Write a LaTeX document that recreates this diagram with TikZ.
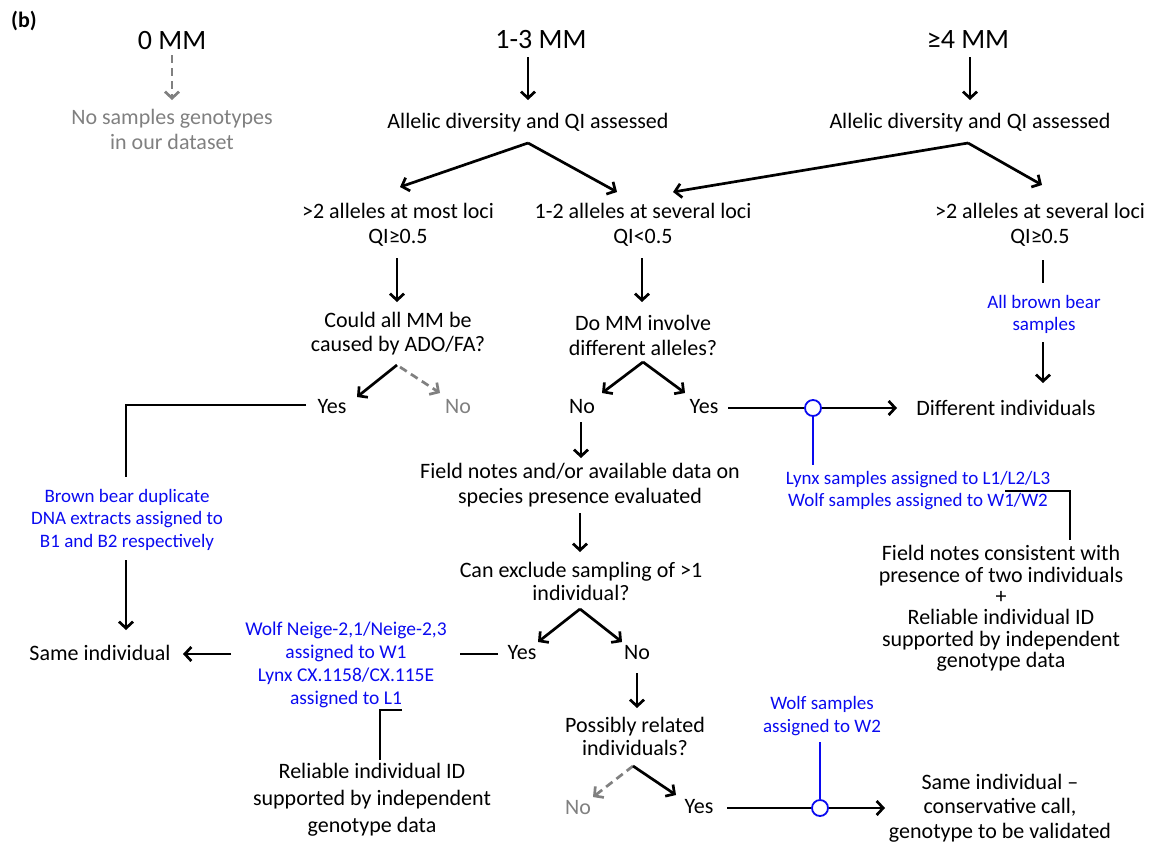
\documentclass[tikz,border=0pt]{standalone}
\usepackage{fontspec}
\setmainfont{Carlito}
\usetikzlibrary{arrows.meta,calc}
\definecolor{bblue}{RGB}{10,10,240}
\definecolor{ggray}{RGB}{128,128,128}
\tikzset{
 txt/.style={font=\fontsize{22}{24}\selectfont, align=center, inner sep=1pt},
 big/.style={font=\fontsize{28}{30}\selectfont, inner sep=1pt},
 btxt/.style={font=\fontsize{19}{22}\selectfont, align=center, text=bblue, inner sep=1pt},
 gtxt/.style={txt, text=ggray},
 arr/.style={line width=2.7pt, -{Straight Barb[length=6.5pt,width=14pt]}},
 garr/.style={arr, draw=ggray, dash pattern=on 8pt off 5pt},
 ln/.style={line width=2.7pt},
 bln/.style={line width=2.7pt, draw=bblue},
 circ/.style={circle, draw=bblue, fill=white, line width=1.8pt, minimum size=16pt, inner sep=0pt}
}
\begin{document}
\begin{tikzpicture}[x=1pt,y=-1pt]
\useasboundingbox (0,0) rectangle (1150,847);
\node[font=\fontsize{22}{24}\selectfont\bfseries, inner sep=0pt] (lab) at (24,21) {(b)};
% nodes
\node[big] (mm0) at (172,41) {0 MM};
\node[big] (mm13) at (541,40) {1-3 MM};
\node[big] (mm4) at (968,40) {≥4 MM};
\node[gtxt, font=\fontsize{22}{25}\selectfont] (nos) at (172,129) {No samples genotypes\\in our dataset};
\node[txt] (al1) at (528,123) {Allelic diversity and QI assessed};
\node[txt] (al2) at (970,123) {Allelic diversity and QI assessed};
\node[txt, font=\fontsize{22}{25}\selectfont] (ma) at (398,224.5) {>2 alleles at most loci\\QI≥0.5};
\node[txt, font=\fontsize{22}{25}\selectfont] (fw) at (643,224.5) {1-2 alleles at several loci\\QI<0.5};
\node[txt, font=\fontsize{22}{25}\selectfont] (sl) at (1040,224.5) {>2 alleles at several loci\\QI≥0.5};
\node[txt, font=\fontsize{22}{24}\selectfont] (ado) at (398,333.5) {Could all MM be\\caused by ADO/FA?};
\node[txt, font=\fontsize{22}{25}\selectfont] (inv) at (643,335.5) {Do MM involve\\different alleles?};
\node[btxt] (bb) at (1044,314) {All brown bear\\samples};
\node[txt] (yes1) at (332,407) {Yes};
\node[gtxt] (no1) at (458,407) {No};
\node[txt] (no2) at (582,407) {No};
\node[txt] (yes2) at (704,407) {Yes};
\node[txt] (diff) at (1006,408) {Different individuals};
\node[btxt] (lynx) at (918,491) {Lynx samples assigned to L1/L2/L3\\Wolf samples assigned to W1/W2};
\node[txt, font=\fontsize{22}{21.4}\selectfont] (fn2) at (1001,608.5) {Field notes consistent with\\presence of two individuals\\+\\Reliable individual ID\\supported by independent\\genotype data};
\node[btxt, font=\fontsize{19}{22.5}\selectfont] (brown) at (127,519.5) {Brown bear duplicate\\DNA extracts assigned to\\B1 and B2 respectively};
\node[txt] (same) at (100,653) {Same individual};
\node[txt, font=\fontsize{22}{25}\selectfont] (fne) at (580,485.5) {Field notes and/or available data on\\species presence evaluated};
\node[txt, font=\fontsize{22}{23}\selectfont] (ce) at (581,581.5) {Can exclude sampling of >1\\individual?};
\node[txt] (yes3) at (522,653) {Yes};
\node[txt] (no3) at (637,653) {No};
\node[btxt, font=\fontsize{19.5}{23}\selectfont] (wn) at (346,664.5) {Wolf Neige-2,1/Neige-2,3\\assigned to W1\\Lynx CX.1158/CX.115E\\assigned to L1};
\node[txt, font=\fontsize{22}{27}\selectfont] (rel) at (372,800) {Reliable individual ID\\supported by independent\\genotype data};
\node[txt, font=\fontsize{22}{23}\selectfont] (pr) at (635,736.5) {Possibly related\\individuals?};
\node[gtxt] (no4) at (578,808) {No};
\node[txt] (yes4) at (699,807) {Yes};
\node[btxt, font=\fontsize{19}{23}\selectfont] (w2) at (822,716.5) {Wolf samples\\assigned to W2};
\node[txt, font=\fontsize{22}{24.5}\selectfont] (sic) at (1000,808) {Same individual --\\conservative call,\\genotype to be validated};
% connectors
\draw[garr] ($(mm0)+(0,14)$) -- ($(nos)+(0,-29)$);
\draw[arr] ($(mm13)+(-13,17)$) -- ($(al1)+(0,-23)$);
\draw[arr] ($(mm4)+(2,17)$) -- ($(al2)+(0,-23)$);
\draw[arr] ($(al1)+(0,20)$) -- ($(ma)+(2,-37.5)$);
\draw[arr] ($(al1)+(0,20)$) -- ($(fw)+(-26,-32.5)$);
\draw[arr] ($(al2)+(-2,20)$) -- ($(fw)+(30,-32.5)$);
\draw[arr] ($(al2)+(-2,20)$) -- ($(sl)+(2,-39.5)$);
\draw[arr] ($(ma)+(-1,33.5)$) -- ($(ado)+(-1,-31.5)$);
\draw[arr] ($(fw)+(-1,33.5)$) -- ($(inv)+(-1,-33.5)$);
\draw[ln] ($(sl)+(3,35.5)$) -- ($(bb)+(-1,-31)$);
\draw[arr] ($(bb)+(-1,28)$) -- ($(diff)+(37,-25)$);
\draw[arr] ($(ado)+(-1,31.5)$) -- ($(yes1)+(25,-10)$);
\draw[garr] ($(ado)+(2,33.5)$) -- ($(no1)+(-18,-14)$);
\draw[arr] ($(inv)+(0,26.5)$) -- ($(no2)+(20,-14)$);
\draw[arr] ($(inv)+(0,26.5)$) -- ($(yes2)+(-19,-14)$);
\draw[arr] ($(yes2)+(24,1)$) -- ($(diff)+(-109,0)$);
\node[circ] (c1) at (813,408) {};
\draw[bln] (c1.south) -- ($(lynx)+(-105,-26)$);
\draw[ln] ($(lynx)+(87,0)$) -| ($(fn2)+(69,-68.5)$);
\draw[ln] ($(yes1)+(-26,-2)$) -| ($(brown)+(-1,-42.5)$);
\draw[arr] ($(brown)+(-1,40.5)$) -- ($(same)+(26,-23)$);
\draw[arr] ($(no2)+(-1,15)$) -- ($(fne)+(1,-27.5)$);
\draw[arr] ($(fne)+(0,27.5)$) -- ($(ce)+(-1,-29.5)$);
\draw[arr] ($(ce)+(-1,27.5)$) -- ($(yes3)+(16,-11)$);
\draw[arr] ($(ce)+(-1,27.5)$) -- ($(no3)+(-15,-11)$);
\draw[ln] ($(yes3)+(-24,1)$) -- ($(wn)+(114,-10.5)$);
\draw[arr] ($(wn)+(-115,-10.5)$) -- ($(same)+(83,1)$);
\draw[ln] ($(wn)+(56,45.5)$) -| ($(rel)+(8,-40)$);
\draw[arr] ($(no3)+(0,20)$) -- ($(pr)+(2,-28.5)$);
\draw[garr] ($(pr)+(-2,29.5)$) -- ($(no4)+(15,-11)$);
\draw[arr] ($(pr)+(-2,29.5)$) -- ($(yes4)+(-23,-12)$);
\draw[arr] ($(yes4)+(28,1)$) -- ($(sic)+(-115,0)$);
\node[circ] (c2) at (820,808) {};
\draw[bln] (c2.north) -- ($(w2)+(-2,25.5)$);
\end{tikzpicture}
\end{document}
